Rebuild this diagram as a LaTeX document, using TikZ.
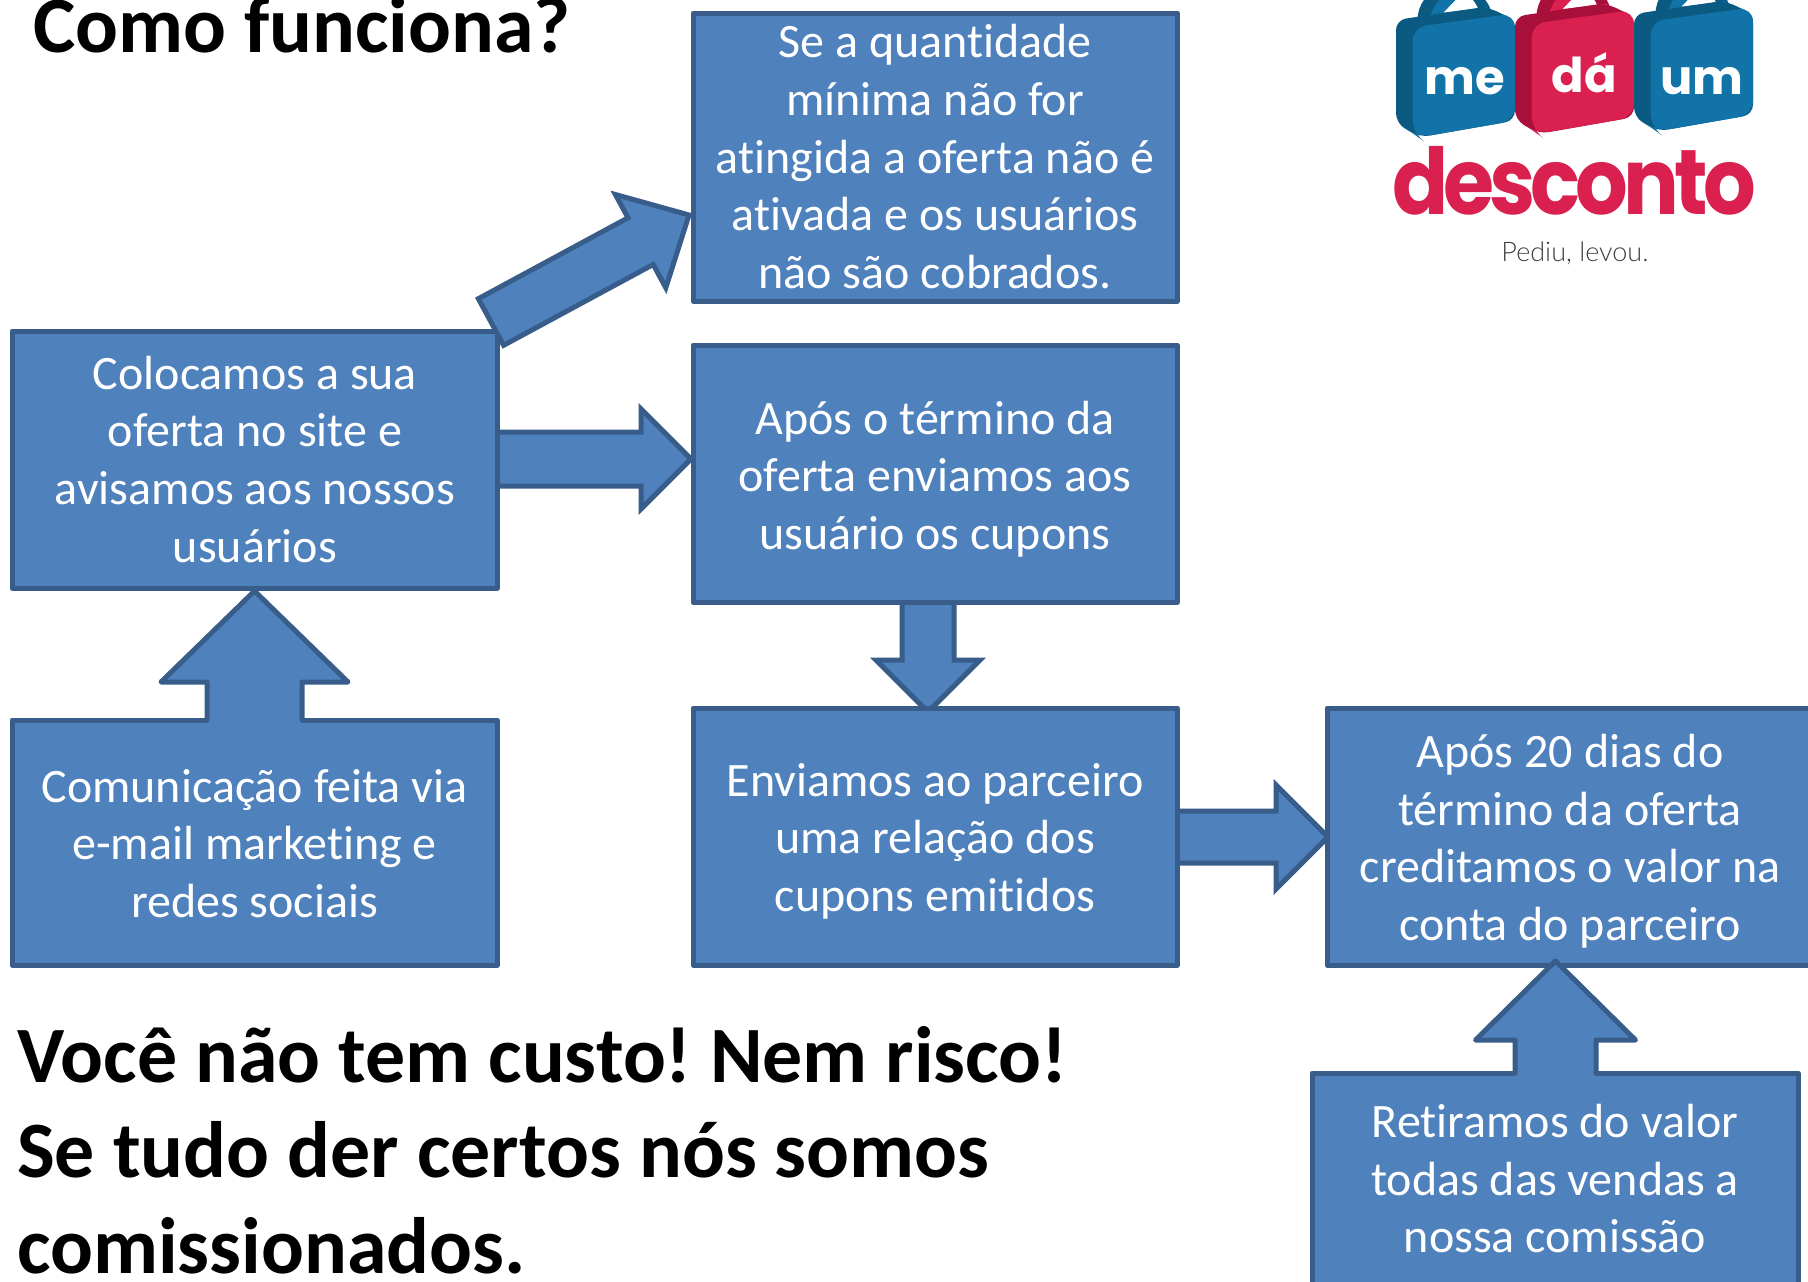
\documentclass[tikz,border=0pt]{standalone}
\usepackage{fontspec}
\setmainfont{Carlito}[Ligatures=NoCommon]
\newfontfamily\logobold{Poppins}[UprightFont=* Bold]
\newfontfamily\logoheavy{Poppins}[UprightFont=* Bold]
\newfontfamily\logolight{Lato}[UprightFont=* Light]
\usetikzlibrary{calc}
\definecolor{boxfill}{HTML}{4F81BD}
\definecolor{boxline}{HTML}{385D8A}
\definecolor{bagblue}{HTML}{1273A8}
\definecolor{bagbluedark}{HTML}{0B5A82}
\definecolor{bagred}{HTML}{D9204F}
\definecolor{bagreddark}{HTML}{A80F3A}
\tikzset{
  flowbox/.style={draw=boxline,fill=boxfill,line width=5pt,line join=round,align=center,text=white,
    inner sep=0pt,font=\fontsize{48}{57.6}\selectfont},
  blockarrow/.style={draw=boxline,fill=boxfill,line width=5pt,miter limit=10,line join=miter},
  openarrow/.style={draw=boxline,line width=5pt,line join=round,line cap=round},
  bigtext/.style={font=\fontsize{79.9}{95.6}\selectfont\bfseries\frenchspacing,text=black,inner sep=0pt,align=left},
}
% closed block arrow: from, to, shaft half width, head half width, head length
\newcommand\blockarrow[5]{%
  \coordinate (nk) at ($(#2)!#5!(#1)$);
  \draw[blockarrow] ($(#1)!#3!90:(#2)$) -- ($(nk)!#3!90:(#2)$) -- ($(nk)!#4!90:(#2)$) -- (#2)
    -- ($(nk)!#4!-90:(#2)$) -- ($(nk)!#3!-90:(#2)$) -- ($(#1)!#3!-90:(#2)$) -- cycle;
}
% block arrow merged into the box it leaves
\newcommand\openblockarrow[5]{%
  \coordinate (nk) at ($(#2)!#5!(#1)$);
  \coordinate (ft) at ($(#1)!-4pt!(#2)$);
  \fill[boxfill] ($(ft)!#3!90:(#2)$) -- ($(nk)!#3!90:(#2)$) -- ($(nk)!#4!90:(#2)$) -- (#2)
    -- ($(nk)!#4!-90:(#2)$) -- ($(nk)!#3!-90:(#2)$) -- ($(ft)!#3!-90:(#2)$) -- cycle;
  \draw[openarrow] ($(#1)!#3!90:(#2)$) -- ($(nk)!#3!90:(#2)$) -- ($(nk)!#4!90:(#2)$) -- (#2)
    -- ($(nk)!#4!-90:(#2)$) -- ($(nk)!#3!-90:(#2)$) -- ($(#1)!#3!-90:(#2)$);
}
\newcommand\flowtext[2]{\raisebox{#1}[\height][\depth]{\begin{tabular}{@{}c@{}}#2\end{tabular}}}
\newcommand\logobag[3]{%
  \begin{scope}[xshift=#1]
    \fill[#3] (172,60) .. controls (175,10) and (200,-20) .. (240,-30) -- (340,-30) .. controls (375,-10) and (395,20) .. (395,50) -- (360,50) .. controls (360,30) and (345,5) .. (335,-5) -- (290,-5) -- (245,40) -- (225,70) -- cycle;
    \fill[#2] (205,70) .. controls (215,20) and (240,-10) .. (275,-25) -- (310,-25) -- (250,38) -- (382,22) -- (400,40) -- (230,70) -- cycle;
    \fill[#3,rounded corners=10pt] (108,60) -- (380,20) -- (465,60) -- (465,362) -- (180,412) -- (108,370) -- cycle;
    \fill[#2,rounded corners=14pt] (158,82) -- (465,40) -- (465,362) -- (175,412) -- (158,400) -- cycle;
  \end{scope}
}
\begin{document}
\begin{tikzpicture}[x=1pt,y=-1pt]
\useasboundingbox (0,0) rectangle (1808,1282);
\fill[white] (0,0) rectangle (1808,1282);

% logo
\begin{scope}[shift={(1360,0)},x=0.3333pt,y=-0.3333pt]
  \logobag{0pt}{bagblue}{bagbluedark}
  \begin{scope}[yshift=3.5pt]\logobag{119pt}{bagred}{bagreddark}\end{scope}
  \begin{scope}[yshift=6pt]\logobag{238pt}{bagblue}{bagbluedark}\end{scope}
\end{scope}
\node[inner sep=0pt,text=white,font=\fontsize{48}{48}\logobold] (lme) at (1465,81) {me};
\node[inner sep=0pt,text=white,font=\fontsize{48}{48}\logobold] (lda) at (1584,73) {dá};
\node[inner sep=0pt,text=white,font=\fontsize{48}{48}\logobold] (lum) at (1702,81) {um};
\node[inner sep=0pt,text=bagred,font=\fontsize{92}{92}\logoheavy] (ldes) at (1574,181) {\scalebox{0.9}[1]{\addfontfeature{LetterSpace=-6}desconto}};
\node[inner sep=0pt,text=black!75,font=\fontsize{27}{27}\logolight] (lped) at (1575,253) {Pediu, levou.};

% heading
\node[bigtext,anchor=base west] (title) at (33,52) {Como funciona?};

% arrows under the boxes
\coordinate (cBa) at (497,459);
\coordinate (cCa) at (691,459);
\coordinate (cCb) at (928,602);
\coordinate (cEb) at (928,712);
\coordinate (cEc) at (1177,837);
\coordinate (cFc) at (1328,837);
\blockarrow{cBa}{cCa}{27pt}{50pt}{50pt}
\blockarrow{cCb}{cEb}{26pt}{52pt}{52pt}
\blockarrow{cEc}{cFc}{26pt}{52pt}{52pt}

% boxes
\node[flowbox,minimum width=484pt,minimum height=288pt] (a) at (935,157) {\flowtext{-4.6pt}{Se a quantidade\\mínima não for\\atingida a oferta não é\\ativada e os usuários\\não são cobrados.}};
\node[flowbox,minimum width=485pt,minimum height=257pt] (b) at (254.5,459.5) {\flowtext{-4.6pt}{\hspace{1pt}Colocamos a sua\\\hspace{1pt}oferta no site e\\\hspace{1pt}avisamos aos nossos\\\hspace{1pt}usuários}};
\node[flowbox,minimum width=484pt,minimum height=257pt] (c) at (935,473.5) {\flowtext{-6.9pt}{Após o término da\\oferta enviamos aos\\usuário os cupons}};
\node[flowbox,minimum width=485pt,minimum height=245pt] (d) at (254.5,842.5) {\flowtext{-5.8pt}{Comunicação feita via\\e-mail marketing e\\redes sociais}};
\node[flowbox,minimum width=484pt,minimum height=257pt] (e) at (935,836.5) {\flowtext{-5.8pt}{Enviamos ao parceiro\\uma relação dos\\cupons emitidos}};
\node[flowbox,minimum width=486pt,minimum height=257pt] (f) at (1570,836.5) {\flowtext{-5.8pt}{Após 20 dias do\\término da oferta\\creditamos o valor na\\conta do parceiro}};
\node[flowbox,minimum width=486pt,minimum height=217pt] (g) at (1555,1181.5) {\flowtext{-2.3pt}{Retiramos do valor\\todas das vendas a\\nossa comissão}};

% arrows above the boxes
\coordinate (cDd) at (254.5,720);
\coordinate (cBd) at (254.5,591);
\coordinate (cGe) at (1555.5,1073);
\coordinate (cFe) at (1555.5,961);
\openblockarrow{cDd}{cBd}{47.5pt}{93.5pt}{91pt}
\openblockarrow{cGe}{cFe}{40.5pt}{80pt}{79pt}
\coordinate (cBab) at (491,322);
\coordinate (cAb) at (689,215);
\blockarrow{cBab}{cAb}{26.5pt}{53pt}{55pt}

% bottom text
\node[bigtext,anchor=north west] (risk) at (17,1026) {Você não tem custo! Nem risco!\\Se tudo der certos nós somos\\comissionados.};
\end{tikzpicture}
\end{document}
